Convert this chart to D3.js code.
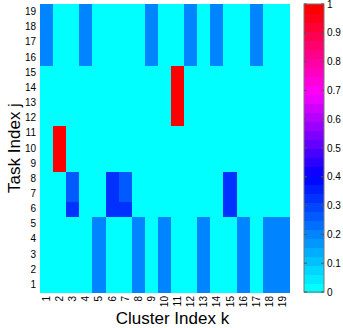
<!DOCTYPE html>
<html>
<head>
<meta charset="utf-8">
<script src="https://cdn.jsdelivr.net/npm/d3@7"></script>
<style>
  body { margin: 0; background: #fff; }
  text { font-family: Arial, "Liberation Sans", sans-serif; }
</style>
</head>
<body>
<div id="chart"></div>
<script>
const clusters = d3.range(1, 20);   // k
const tasks = d3.range(1, 20);      // j
const colorTicks = [0, 0.1, 0.2, 0.3, 0.4, 0.5, 0.6, 0.7, 0.8, 0.9, 1];

// non-zero cells: [k, j, value], everything else is 0
const topCols = [1, 4, 9, 12, 14, 17];          // rows 16-19
const bottomCols = [5, 8, 10, 13, 16, 18, 19];  // rows 1-5
const midCells = [
  [3, 6, 0.32], [3, 7, 0.27], [3, 8, 0.27],
  [6, 6, 0.33], [6, 7, 0.33], [6, 8, 0.33],
  [7, 6, 0.33], [7, 7, 0.28], [7, 8, 0.28],
  [15, 6, 0.32], [15, 7, 0.32], [15, 8, 0.32]
];
const redCells = [[2, 9, 1], [2, 10, 1], [2, 11, 1], [11, 12, 1], [11, 13, 1], [11, 14, 1], [11, 15, 1]];

const cells = [];
tasks.forEach(j => clusters.forEach(k => {
  let v = 0;
  if (j >= 16 && topCols.includes(k)) v = 0.2;
  if (j <= 5 && bottomCols.includes(k)) v = 0.2;
  cells.push({ k, j, v });
}));
midCells.concat(redCells).forEach(([k, j, v]) => {
  cells.find(c => c.k === k && c.j === j).v = v;
});

const width = 343, height = 328;
const plot = { left: 40, top: 4, right: 289, bottom: 292 };

const svg = d3.select('#chart').append('svg')
  .attr('width', width)
  .attr('height', height);

const x = d3.scaleBand().domain(clusters).range([plot.left, plot.right]);
const y = d3.scaleBand().domain(tasks).range([plot.bottom, plot.top]);

// cyan -> blue -> magenta -> red, 32 steps
const baseColor = d3.scaleLinear()
  .domain([0, 0.4, 0.7, 1])
  .range(['#00ffff', '#0000ff', '#ff00ff', '#ff0000'])
  .interpolate(d3.interpolateRgb);
const nLevels = 32;
const color = v => baseColor(Math.min(nLevels - 1, Math.floor(v * nLevels)) / (nLevels - 1));

svg.append('g')
  .attr('shape-rendering', 'crispEdges')
  .selectAll('rect')
  .data(cells)
  .enter().append('rect')
  .attr('x', d => x(d.k))
  .attr('y', d => y(d.j))
  .attr('width', x.bandwidth() + 1)
  .attr('height', y.bandwidth() + 1)
  .attr('fill', d => color(d.v));

// y axis labels
svg.append('g')
  .selectAll('text')
  .data(tasks)
  .enter().append('text')
  .attr('x', plot.left - 4)
  .attr('y', d => y(d) + y.bandwidth() / 2)
  .attr('dy', '0.35em')
  .attr('text-anchor', 'end')
  .style('font-size', '10px')
  .text(d => d);

// x axis labels (rotated)
svg.append('g')
  .selectAll('text')
  .data(clusters)
  .enter().append('text')
  .attr('transform', d => `translate(${x(d) + x.bandwidth() / 2},${plot.bottom + 4}) rotate(-90)`)
  .attr('dy', '0.35em')
  .attr('text-anchor', 'end')
  .style('font-size', '10px')
  .text(d => d);

svg.append('text')
  .attr('x', (plot.left + plot.right) / 2 + 8)
  .attr('y', 324)
  .attr('text-anchor', 'middle')
  .style('font-size', '17px')
  .text('Cluster Index k');

svg.append('text')
  .attr('transform', `translate(20,${(plot.top + plot.bottom) / 2}) rotate(-90)`)
  .attr('text-anchor', 'middle')
  .style('font-size', '17px')
  .text('Task Index j');

// colorbar
const cb = { left: 304, right: 324, top: 4, bottom: 292 };
const cy = d3.scaleLinear().domain([0, 1]).range([cb.bottom, cb.top]);
const levels = d3.range(nLevels);

svg.append('g')
  .attr('shape-rendering', 'crispEdges')
  .selectAll('rect')
  .data(levels)
  .enter().append('rect')
  .attr('x', cb.left)
  .attr('width', cb.right - cb.left)
  .attr('y', i => cy((i + 1) / nLevels))
  .attr('height', i => cy(i / nLevels) - cy((i + 1) / nLevels) + 1)
  .attr('fill', i => baseColor(i / (nLevels - 1)));

svg.append('rect')
  .attr('x', cb.left)
  .attr('y', cb.top)
  .attr('width', cb.right - cb.left)
  .attr('height', cb.bottom - cb.top)
  .attr('fill', 'none')
  .attr('stroke', '#777')
  .attr('stroke-width', 1);

const cbTicks = svg.append('g')
  .selectAll('g')
  .data(colorTicks)
  .enter().append('g');

cbTicks.append('line')
  .attr('x1', cb.left).attr('x2', cb.left + 3)
  .attr('y1', d => cy(d)).attr('y2', d => cy(d))
  .attr('stroke', '#555');
cbTicks.append('line')
  .attr('x1', cb.right - 3).attr('x2', cb.right)
  .attr('y1', d => cy(d)).attr('y2', d => cy(d))
  .attr('stroke', '#555');
cbTicks.append('text')
  .attr('x', cb.right + 3)
  .attr('y', d => cy(d))
  .attr('dy', '0.35em')
  .style('font-size', '10px')
  .text(d => d);
</script>
</body>
</html>
